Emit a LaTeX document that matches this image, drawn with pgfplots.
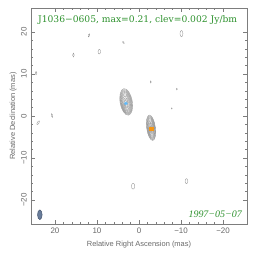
\documentclass[border=0pt]{standalone}
\usepackage{fontspec}
\setmainfont{Liberation Sans}
\newfontfamily\titlefont{DejaVu Serif}
\newfontfamily\datefont{Liberation Serif}
\usepackage{pgfplots}
\pgfplotsset{compat=1.18}
\definecolor{tgreen}{RGB}{45,145,45}
\definecolor{fgray}{RGB}{125,125,125}
\definecolor{lgray}{RGB}{105,105,105}
\definecolor{cgray}{RGB}{145,145,145}
\definecolor{cblue}{RGB}{100,185,245}
\definecolor{corange}{RGB}{245,150,20}
\definecolor{beamfill}{RGB}{105,125,155}
\definecolor{beamline}{RGB}{70,85,110}

\pgfdeclareplotmark{ell}{%
  \pgfmathsetlengthmacro\rA{\cA*4.2023bp}%
  \pgfmathsetlengthmacro\rB{\cB*4.2023bp}%
  \pgfmathsetmacro\rR{\cR+90}%
  \pgfpathellipse{\pgfpointorigin}{\pgfpointpolar{\cR}{\rA}}{\pgfpointpolar{\rR}{\rB}}%
  \pgfusepathqstroke}
\pgfdeclareplotmark{fell}{%
  \pgfmathsetlengthmacro\rA{\cA*4.2023bp}%
  \pgfmathsetlengthmacro\rB{\cB*4.2023bp}%
  \pgfmathsetmacro\rR{\cR+90}%
  \pgfpathellipse{\pgfpointorigin}{\pgfpointpolar{\cR}{\rA}}{\pgfpointpolar{\rR}{\rB}}%
  \pgfusepathqfillstroke}

\pgfplotstableread{
x y a b r
3.05 3.35 1.45 3.20 10
3.05 3.32 1.36 3.00 10
3.06 3.29 1.27 2.80 10
3.06 3.26 1.18 2.60 10
3.07 3.23 1.09 2.40 10
3.07 3.20 0.98 2.15 10
3.08 3.16 0.87 1.90 10
3.08 3.12 0.74 1.60 10
3.09 3.08 0.61 1.30 10
3.09 3.04 0.48 1.00 10
3.10 3.00 0.35 0.70 10
-2.86 -2.80 1.04 3.05 8
-2.87 -2.81 0.97 2.85 8
-2.87 -2.82 0.90 2.65 8
-2.88 -2.83 0.83 2.45 8
-2.88 -2.84 0.77 2.25 8
-2.89 -2.86 0.68 2.00 8
-2.89 -2.88 0.60 1.75 8
-2.90 -2.90 0.51 1.50 8
-2.90 -2.91 0.41 1.20 8
-2.90 -2.92 0.31 0.90 8
-2.90 -2.93 0.20 0.60 8
11.9 19.2 0.20 0.40 -20
9.45 15.3 0.30 0.55 0
15.6 14.5 0.20 0.45 0
3.7 17.5 0.15 0.30 30
-10.1 19.6 0.35 0.75 0
24.5 10.2 0.20 0.40 0
20.7 0.1 0.20 0.45 20
24.0 -1.6 0.20 0.50 -30
-2.8 8.1 0.10 0.25 0
-9.0 6.4 0.12 0.20 0
-7.8 1.8 0.10 0.15 0
1.4 -16.7 0.40 0.70 0
-11.3 -15.5 0.33 0.60 0
}\contours

\pgfplotstableread{
x y a b r
23.6 -23.5 0.55 1.15 0
}\beam

\begin{document}
\begin{tikzpicture}
\path[use as bounding box] (-31bp,-38bp) rectangle (233bp,224bp);
\begin{axis}[
  at={(0,0)}, anchor=south west,
  scale only axis, width=216bp, height=216bp,
  x dir=reverse,
  xmin=-25.7, xmax=25.7, ymin=-25.7, ymax=25.7,
  xtick={-20,-10,0,10,20},
  xticklabels={−20,−10,0,10,20},
  ytick={-20,-10,0,10,20},
  yticklabels={−20,−10,0,10,20},
  minor tick num=4,
  tick align=inside,
  major tick length=4bp, minor tick length=2bp,
  axis line style={fgray, line width=0.6bp},
  every tick/.style={fgray, line width=0.5bp},
  tick label style={font=\fontsize{8}{9}\selectfont, text=lgray},
  xticklabel style={inner sep=4bp},
  yticklabel style={rotate=90, anchor=south, inner sep=4bp},
  xlabel={Relative Right Ascension (mas)},
  ylabel={Relative Declination (mas)},
  every axis x label/.style={at={(axis description cs:0.5,-0.093)}, anchor=center, font=\fontsize{7.5}{8}\selectfont, text=lgray},
  every axis y label/.style={at={(axis description cs:-0.082,0.5)}, anchor=center, rotate=90, font=\fontsize{7.5}{8}\selectfont, text=lgray},
  clip=false,
]
\addplot[scatter, only marks, mark=ell, line width=0.35bp,
  scatter/use mapped color={draw=cgray},
  visualization depends on={\thisrow{a}\as\cA},
  visualization depends on={\thisrow{b}\as\cB},
  visualization depends on={\thisrow{r}\as\cR}]
  table[x=x,y=y] {\contours};
\addplot[scatter, only marks, mark=fell, line width=0.5bp,
  scatter/use mapped color={draw=beamline, fill=beamfill},
  visualization depends on={\thisrow{a}\as\cA},
  visualization depends on={\thisrow{b}\as\cB},
  visualization depends on={\thisrow{r}\as\cR}]
  table[x=x,y=y] {\beam};
\addplot[only marks, mark=*, mark size=1.6bp, color=cblue] coordinates {(3.1,3.0)};
\addplot[only marks, mark=square*, mark size=1.6bp, color=corange] coordinates {(-2.9,-2.93)};
\node[anchor=west, text=tgreen, font=\titlefont\fontsize{9.2}{11}\selectfont, inner sep=0pt] at (rel axis cs:0.032,0.944) {J1036−0605, max=0.21, clev=0.002 Jy/bm};
\node[anchor=east, text=tgreen, font=\datefont\itshape\fontsize{10}{11}\selectfont, inner sep=0pt] at (rel axis cs:0.977,0.046) {1997−05−07};
\end{axis}
\end{tikzpicture}
\end{document}
